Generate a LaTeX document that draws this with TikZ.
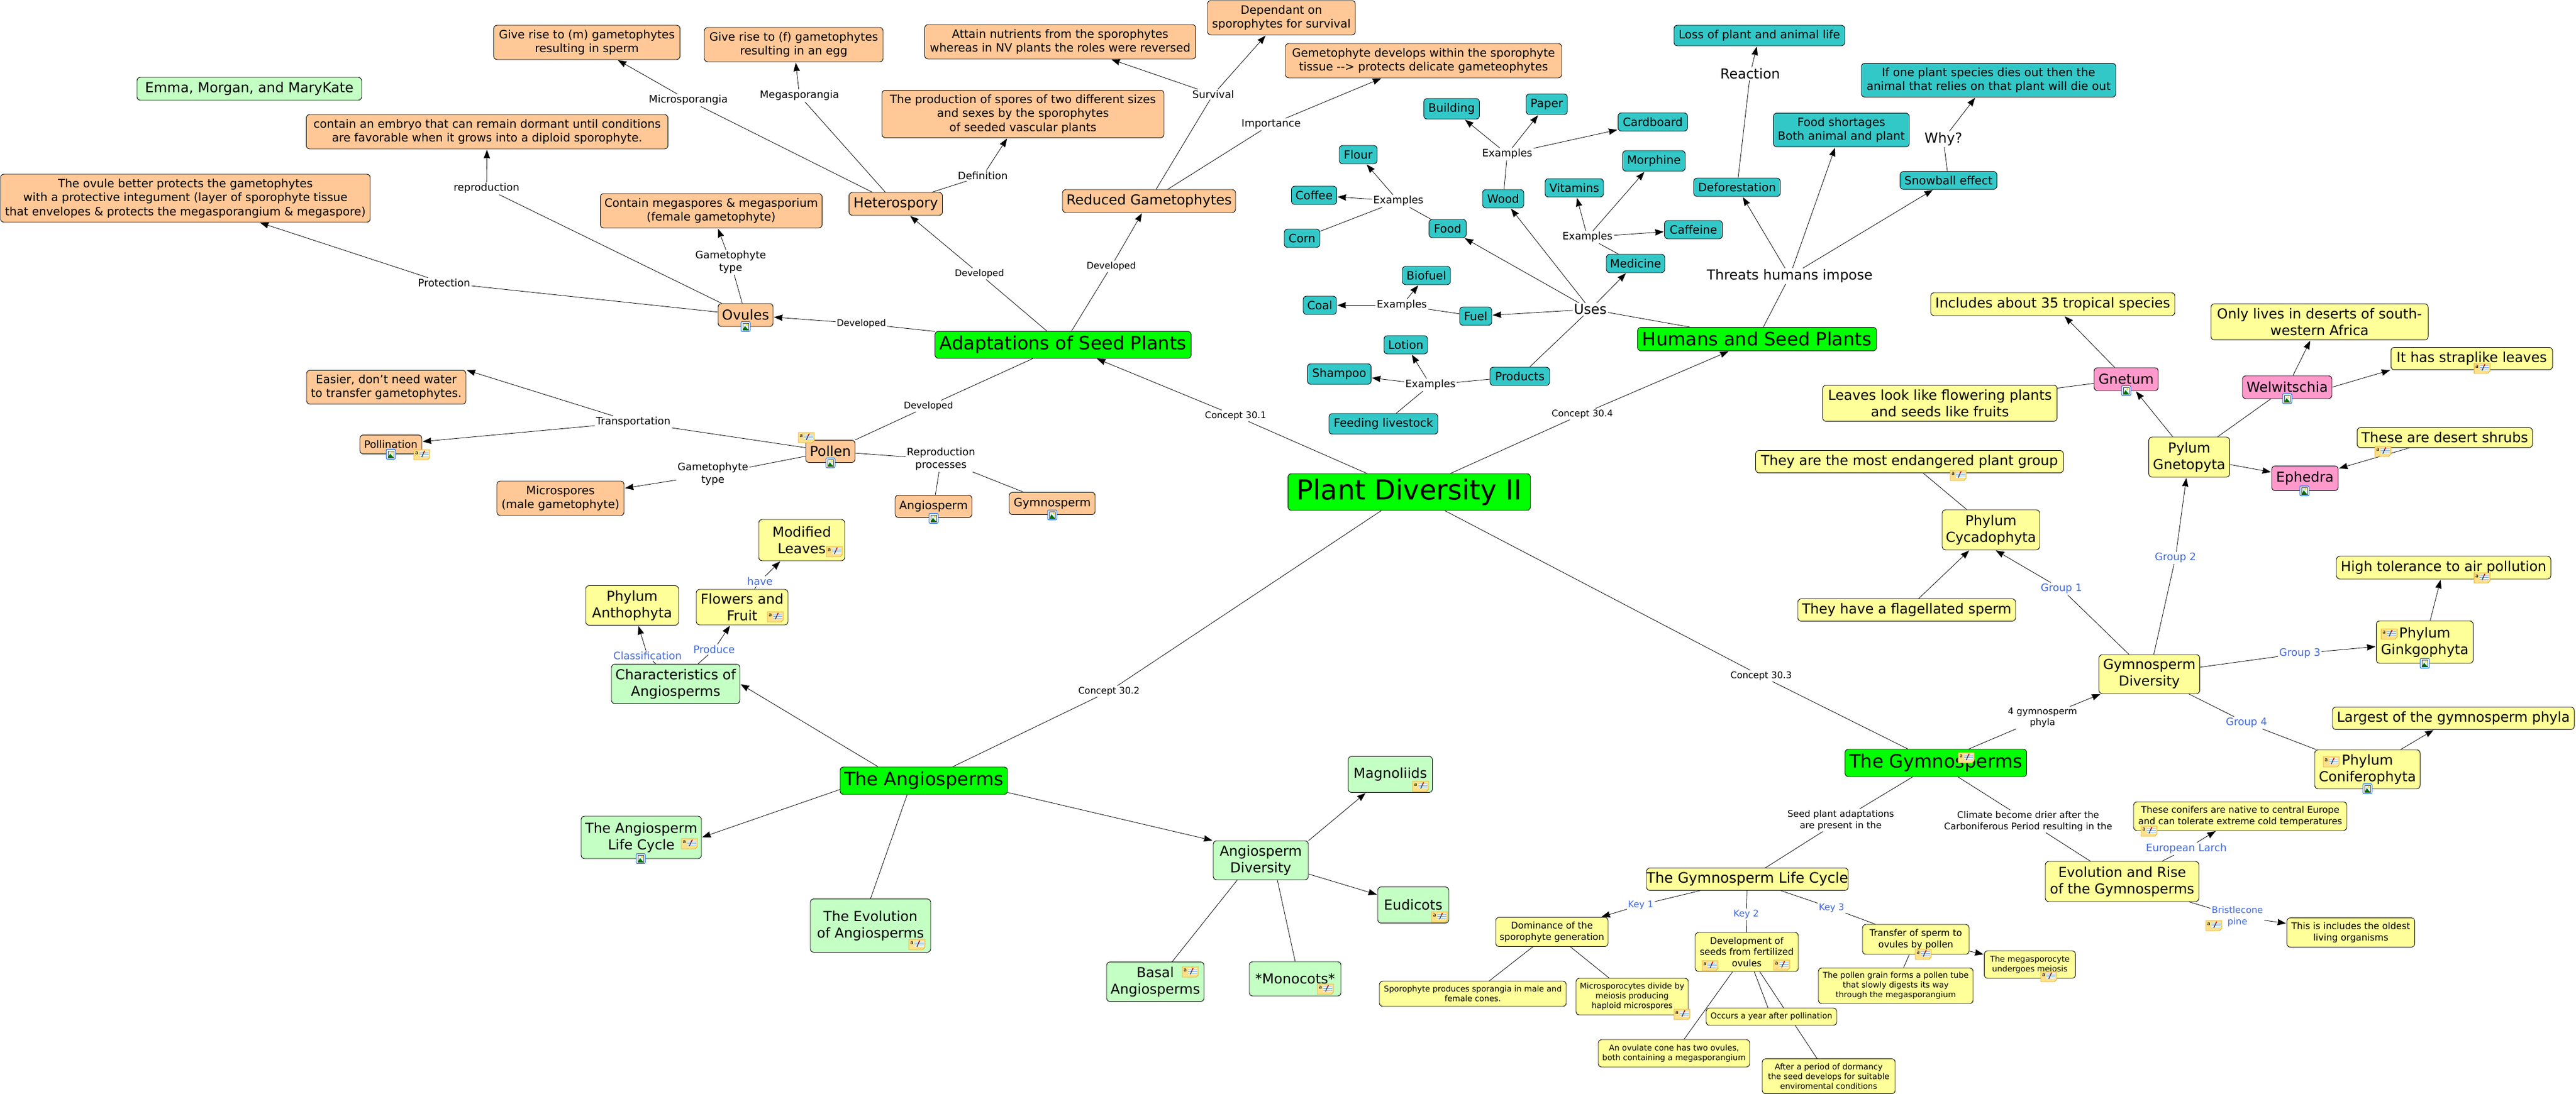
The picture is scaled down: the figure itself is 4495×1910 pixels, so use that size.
\documentclass[tikz,border=0pt]{standalone}
\usepackage{fontspec}
\setmainfont{DejaVu Sans}
\usetikzlibrary{arrows.meta}
\usetikzlibrary{backgrounds}
\definecolor{peach}{HTML}{FFC896}
\definecolor{tealbox}{HTML}{33C8C8}
\definecolor{lemon}{HTML}{FFFF99}
\definecolor{mint}{HTML}{C4FFC4}
\definecolor{hotgreen}{HTML}{00FF00}
\definecolor{rose}{HTML}{FF99CC}
\definecolor{linkblue}{HTML}{3F68DC}
\definecolor{notefill}{HTML}{FFE08A}
\definecolor{noteedge}{HTML}{E6AE20}
\definecolor{stripe}{HTML}{8FC0EC}
\tikzset{
  sz14/.style={font=\fontsize{14}{17}\selectfont},
  sz16/.style={font=\fontsize{16}{19.5}\selectfont},
  sz18/.style={font=\fontsize{18}{22}\selectfont},
  sz20/.style={font=\fontsize{20}{24.5}\selectfont},
  sz24/.style={font=\fontsize{24}{29}\selectfont},
  sz25/.style={font=\fontsize{25}{30}\selectfont},
  sz32/.style={font=\fontsize{32}{38}\selectfont},
  sz48/.style={font=\fontsize{48}{56}\selectfont},
  wh/.style 2 args={minimum width=#1pt,minimum height=#2pt},
  box/.style={draw=black,line width=0.9pt,rounded corners=6pt,align=center,inner sep=0pt},
  orangebox/.style={box,fill=peach,sz20},
  cyanbox/.style={box,fill=tealbox,sz20},
  yellowbox/.style={box,fill=lemon,sz24},
  palebox/.style={box,fill=mint,sz24},
  mainbox/.style={box,fill=hotgreen,sz32},
  pinkbox/.style={box,fill=rose,sz24},
  lbl/.style={align=center,inner sep=2pt,sz18},
  lblb/.style={lbl,text=linkblue},
  lnk/.style={line width=0.8pt},
  arw/.style={line width=0.8pt,-{Stealth[length=15pt,width=11pt,inset=1pt]},shorten >=1pt},
}
\newcommand{\noteicon}[2]{
  \begin{scope}[shift={(#2)}]
    \draw[fill=notefill,draw=noteedge,line width=0.9pt] (-14,-9) -- (14,-9) -- (14,5) -- (10,9) -- (-14,9) -- cycle;
    \fill[white] (-4,-6) rectangle (12,4);
    \draw[stripe,line width=1.2pt] (-4,-4.5) -- (12,-4.5) (-4,-1) -- (12,-1) (-4,2.5) -- (12,2.5);
    \draw[red!75!black,line width=1.6pt] (5,-7) -- (3,-3);
    \draw[black!80,line width=1.3pt] (3,-3) -- (0,4);
    \node[inner sep=0pt,font=\fontsize{9}{9}\selectfont] (note-#1) at (-9,-3) {a};
  \end{scope}}
\newcommand{\picicon}[2]{
  \begin{scope}[shift={(#2)}]
    \draw[fill=white,draw=blue!60!cyan,line width=1pt,rounded corners=2pt] (-8,-8.5) rectangle (8,8.5);
    \fill[cyan!12] (-5,-6) rectangle (5,6);
    \draw[black!70,line width=0.4pt] (-5,-6) rectangle (5,6);
    \fill[green!45!black] (-5,6) -- (-1,-1) -- (2,3) -- (5,6) -- cycle;
    \fill[yellow!80!orange] (2,-3) circle (1.8);
    \coordinate (pic-#1) at (0,0);
  \end{scope}}

\begin{document}
\begin{tikzpicture}[x=1pt,y=-1pt]
\useasboundingbox (0,0) rectangle (4495,1910);

% hubs
\node[mainbox,sz48,wh={423}{64}] (pd) at (2459,859) {Plant Diversity II};
\node[mainbox,wh={447}{47}] (adapt) at (1855,602) {Adaptations of Seed Plants};
\node[mainbox,wh={417}{41}] (humans) at (3066,592) {Humans and Seed Plants};
\node[mainbox,wh={292}{48}] (angio) at (1612,1363) {The Angiosperms};
\node[mainbox,wh={317}{48}] (gymno) at (3378,1332) {The Gymnosperms};
\node[palebox,wh={392}{40}] (authors) at (435,155) {Emma, Morgan, and MaryKate};

% adaptations
\node[orangebox,wh={325}{60}] (risem) at (1024,74) {Give rise to (m) gametophytes\\resulting in sperm};
\node[orangebox,wh={312}{60}] (risef) at (1385,78) {Give rise to (f) gametophytes\\resulting in an egg};
\node[orangebox,wh={631}{60}] (embryo) at (850,230) {contain an embryo that can remain dormant until conditions\\are favorable when it grows into a diploid sporophyte.};
\node[orangebox,wh={645}{84}] (protect) at (323.5,346) {The ovule better protects the gametophytes\\with a protective integument (layer of sporophyte tissue\\that envelopes \& protects the megasporangium \& megaspore)};
\node[orangebox,wh={387}{60}] (megasp) at (1241,368) {Contain megaspores \& megasporium\\(female gametophyte)};
\node[orangebox,sz24,wh={163}{40}] (hetero) at (1563,356) {Heterospory};
\node[orangebox,sz24,wh={96}{40}] (ovules) at (1301,550) {Ovules};
\node[orangebox,wh={473}{60}] (attain) at (1850,73) {Attain nutrients from the sporophytes\\whereas in NV plants the roles were reversed};
\node[orangebox,wh={258}{60}] (depend) at (2236,31) {Dependant on\\sporophytes for survival};
\node[orangebox,wh={482}{60}] (gemeto) at (2484,106) {Gemetophyte develops within the sporophyte\\tissue {-}{-}> protects delicate gameteophytes};
\node[orangebox,wh={492}{83}] (product) at (1785,199) {The production of spores of two different sizes\\and sexes by the sporophytes\\of seeded vascular plants};
\node[orangebox,sz24,wh={302}{40}] (reduced) at (2005,351) {Reduced Gametophytes};
\node[orangebox,wh={278}{59}] (easier) at (674,676) {Easier, don't need water\\to transfer gametophytes.};
\node[orangebox,sz18,wh={108}{33}] (pollin) at (682,776) {Pollination};
\node[orangebox,wh={222}{60}] (micro) at (978,870) {Microspores\\(male gametophyte)};
\node[orangebox,sz24,wh={86}{39}] (pollen) at (1449,788) {Pollen};
\node[orangebox,wh={134}{39}] (angbox) at (1629,884) {Angiosperm};
\node[orangebox,wh={150}{39}] (gymbox) at (1836,879) {Gymnosperm};

% humans
\node[cyanbox,wh={66}{32}] (flour) at (2370,270) {Flour};
\node[cyanbox,wh={79}{32}] (coffee) at (2293,341) {Coffee};
\node[cyanbox,wh={62}{32}] (corn) at (2272,416) {Corn};
\node[cyanbox,wh={65}{32}] (food) at (2526,399) {Food};
\node[cyanbox,wh={97}{36}] (build) at (2533,190) {Building};
\node[cyanbox,wh={72}{36}] (paper) at (2699,182) {Paper};
\node[cyanbox,wh={121}{32}] (card) at (2884,213) {Cardboard};
\node[cyanbox,wh={109}{36}] (morph) at (2886,281) {Morphine};
\node[cyanbox,wh={102}{32}] (vitam) at (2747,328) {Vitamins};
\node[cyanbox,wh={72}{32}] (wood) at (2623,347) {Wood};
\node[cyanbox,wh={101}{32}] (caff) at (2955,401) {Caffeine};
\node[cyanbox,wh={102}{32}] (medic) at (2854,460) {Medicine};
\node[cyanbox,wh={84}{32}] (biof) at (2489,481) {Biofuel};
\node[cyanbox,wh={58}{32}] (coal) at (2303,533) {Coal};
\node[cyanbox,wh={56}{32}] (fuel) at (2575,552) {Fuel};
\node[cyanbox,wh={76}{32}] (lotion) at (2453,602) {Lotion};
\node[cyanbox,wh={111}{36}] (shamp) at (2337,653) {Shampoo};
\node[cyanbox,wh={104}{32}] (prods) at (2652,657) {Products};
\node[cyanbox,wh={190}{36}] (feed) at (2414,740) {Feeding livestock};
\node[cyanbox,wh={298}{36}] (loss) at (3070,62) {Loss of plant and animal life};
\node[cyanbox,wh={151}{32}] (defor) at (3031,327) {Deforestation};
\node[cyanbox,wh={444}{59}] (ifone) at (3470,140) {If one plant species dies out then the\\animal that relies on that plant will die out};
\node[cyanbox,wh={237}{59}] (short) at (3213,227) {Food shortages\\Both animal and plant};
\node[cyanbox,wh={169}{31}] (snow) at (3400,315) {Snowball effect};

% angiosperms
\node[yellowbox,wh={150}{72}] (modif) at (1399,943) {Modified\\Leaves};
\node[yellowbox,wh={162}{69}] (antho) at (1103,1057) {Phylum\\Anthophyta};
\node[yellowbox,wh={160}{62}] (flowers) at (1295,1060) {Flowers and\\Fruit};
\node[palebox,wh={224}{69}] (charac) at (1179,1194) {Characteristics of\\Angiosperms};
\node[palebox,wh={210}{74}] (alife) at (1119,1462) {The Angiosperm\\Life Cycle};
\node[palebox,wh={210}{93}] (aevol) at (1519,1616) {The Evolution\\of Angiosperms};
\node[palebox,wh={166}{68}] (adiv) at (2200,1502) {Angiosperm\\Diversity};
\node[palebox,wh={170}{69}] (basal) at (2016,1714) {Basal\\Angiosperms};
\node[palebox,wh={160}{60}] (mono) at (2260,1709) {*Monocots*};
\node[palebox,wh={147}{63}] (magno) at (2426,1352) {Magnoliids};
\node[palebox,wh={124}{63}] (eudi) at (2466,1580) {Eudicots};

% gymnosperms
\node[yellowbox,wh={426}{40}] (includes) at (3582,531) {Includes about 35 tropical species};
\node[yellowbox,wh={379}{63}] (desert) at (4047.5,562) {Only lives in deserts of south-\\western Africa};
\node[yellowbox,wh={282}{39}] (strap) at (4313,626) {It has straplike leaves};
\node[pinkbox,wh={112}{40}] (gnetum) at (3710,662) {Gnetum};
\node[pinkbox,wh={156}{40}] (welw) at (3991,676) {Welwitschia};
\node[yellowbox,wh={409}{63}] (leaves) at (3385,704) {Leaves look like flowering plants\\and seeds like fruits};
\node[yellowbox,wh={141}{70}] (gneto) at (3820,798) {Pylum\\Gnetopyta};
\node[yellowbox,wh={306}{35}] (shrubs) at (4266,764) {These are desert shrubs};
\node[pinkbox,wh={116}{43}] (ephed) at (4022,835) {Ephedra};
\node[yellowbox,wh={537}{39}] (endang) at (3332,806) {They are the most endangered plant group};
\node[yellowbox,wh={170}{70}] (cycad) at (3474,925) {Phylum\\Cycadophyta};
\node[yellowbox,wh={380}{39}] (flagel) at (3327,1065) {They have a flagellated sperm};
\node[yellowbox,wh={374}{40}] (toler) at (4264,991) {High tolerance to air pollution};
\node[yellowbox,wh={169}{74}] (ginkgo) at (4231,1121) {Phylum\\Ginkgophyta};
\node[yellowbox,wh={176}{68}] (gdiv) at (3750.5,1177) {Gymnosperm\\Diversity};
\node[yellowbox,wh={422}{39}] (largest) at (4281,1254) {Largest of the gymnosperm phyla};
\node[yellowbox,wh={184}{68}] (conif) at (4131,1343) {Phylum\\Coniferophyta};
\node[yellowbox,sz25,wh={352}{39}] (glife) at (3049,1535) {The Gymnosperm Life Cycle};
\node[yellowbox,wh={268}{70}] (gevol) at (3703,1539) {Evolution and Rise\\of the Gymnosperms};
\node[yellowbox,sz16,wh={372}{50}] (larch) at (3909,1425) {These conifers are native to central Europe\\and can tolerate extreme cold temperatures};
\node[yellowbox,sz16,wh={223}{51}] (oldest) at (4102,1628) {This is includes the oldest\\living organisms};
\node[yellowbox,sz16,wh={196}{51}] (domin) at (2708,1627) {Dominance of the\\sporophyte generation};
\node[yellowbox,sz16,wh={180}{68}] (devel) at (3048,1662) {Development of\\seeds from fertilized\\ovules};
\node[yellowbox,sz16,wh={186}{52}] (transf) at (3343,1640) {Transfer of sperm to\\ovules by pollen};
\node[yellowbox,sz14,wh={159}{48}] (megacyte) at (3542,1684) {The megasporocyte\\undergoes meiosis};
\node[yellowbox,sz14,wh={326}{44}] (sporo) at (2570,1735) {Sporophyte produces sporangia in male and\\female cones.};
\node[yellowbox,sz14,wh={196}{64}] (microcyte) at (2848,1740) {Microsporocytes divide by\\meiosis producing\\haploid microspores};
\node[yellowbox,sz14,wh={270}{62}] (tube) at (3308,1721) {The pollen grain forms a pollen tube\\that slowly digests its way\\through the megasporangium};
\node[yellowbox,sz14,wh={228}{30}] (occurs) at (3091,1775) {Occurs a year after pollination};
\node[yellowbox,sz14,wh={264}{48}] (ovulate) at (2921,1839) {An ovulate cone has two ovules,\\both containing a megasporangium};
\node[yellowbox,sz14,wh={232}{61}] (after) at (3191,1879) {After a period of dormancy\\the seed develops for suitable\\enviromental conditions};

% link labels
\node[lbl,sz16] (c301) at (2156,726) {Concept 30.1};
\node[lbl,sz16] (c302) at (1935,1207) {Concept 30.2};
\node[lbl,sz16] (c303) at (3073,1180) {Concept 30.3};
\node[lbl,sz16] (c304) at (2761,723) {Concept 30.4};
\node[lbl,sz16] (devovu) at (1503,565) {Developed};
\node[lbl,sz16] (devhet) at (1709,478) {Developed};
\node[lbl,sz16] (devred) at (1939,465) {Developed};
\node[lbl,sz16] (devpol) at (1620,709) {Developed};
\node[lbl] (lmicro) at (1201,175) {Microsporangia};
\node[lbl] (lmega) at (1395,167) {Megasporangia};
\node[lbl] (lrepro) at (849,329) {reproduction};
\node[lbl] (lgamo) at (1275,458) {Gametophyte\\type};
\node[lbl] (lprot) at (775,494) {Protection};
\node[lbl] (lsurv) at (2117,165) {Survival};
\node[lbl] (limpo) at (2218,217) {Importance};
\node[lbl] (ldefi) at (1715,307) {Definition};
\node[lbl] (ltrans) at (1105,737) {Transportation};
\node[lbl] (lgamp) at (1244,828) {Gametophyte\\type};
\node[lbl] (lproc) at (1642,802) {Reproduction\\processes};
\node[lbl] (exwood) at (2630,269) {Examples};
\node[lbl] (exfood) at (2440,351) {Examples};
\node[lbl] (exmed) at (2770,414) {Examples};
\node[lbl] (exfuel) at (2446,533) {Examples};
\node[lbl] (exprod) at (2496,672) {Examples};
\node[lbl,sz24] (luses) at (2775,540) {Uses};
\node[lbl,sz24] (lthreat) at (3123,482) {Threats humans impose};
\node[lbl,sz24] (lreact) at (3054,129) {Reaction};
\node[lbl,sz24] (lwhy) at (3391,243) {Why?};
\node[lbl,sz16] (lphyla) at (3564,1253) {4 gymnosperm\\phyla};
\node[lbl,sz16] (lseed) at (3212,1432) {Seed plant adaptations\\are present in the};
\node[lbl,sz16] (lclim) at (3539,1434) {Climate become drier after the\\Carboniferous Period resulting in the};
\node[lblb] (lhave) at (1326,1015) {have};
\node[lblb] (lprodu) at (1246,1134) {Produce};
\node[lblb] (lclass) at (1130,1145) {Classification};
\node[lblb] (grp1) at (3597,1028) {Group 1};
\node[lblb] (grp2) at (3796,974) {Group 2};
\node[lblb] (grp3) at (4013,1141) {Group 3};
\node[lblb] (grp4) at (3920,1262) {Group 4};
\node[lblb,sz16] (key1) at (2863,1580) {Key 1};
\node[lblb,sz16] (key2) at (3047,1596) {Key 2};
\node[lblb,sz16] (key3) at (3196,1585) {Key 3};
\node[lblb] (llarch) at (3815,1482) {European Larch};
\node[lblb,sz16] (lbris) at (3904,1600) {Bristlecone\\pine};

% icons
\noteicon{pollen}{1407,764}
\noteicon{pollin}{736,794}
\noteicon{modif}{1456,963}
\noteicon{flowers}{1353,1077}
\noteicon{alife}{1203,1473}
\noteicon{aevol}{1600,1649}
\noteicon{basal}{2077,1697}
\noteicon{mono}{2313,1727}
\noteicon{magno}{2479,1373}
\noteicon{eudi}{2512,1601}
\noteicon{gymno}{3431,1323}
\noteicon{larch}{3750,1451}
\noteicon{bris}{3863,1616}
\noteicon{devela}{2984,1686}
\noteicon{develb}{3109,1685}
\noteicon{transf}{3356,1666}
\noteicon{microcyte}{2935,1771}
\noteicon{megacyte}{3575,1705}
\noteicon{strap}{4331,643}
\noteicon{toler}{4331,1009}
\noteicon{endang}{3417,830}
\noteicon{shrubs}{4158,788}
\noteicon{ginkgo}{4169,1107}
\noteicon{conif}{4068,1330}
\picicon{ovules}{1301,570}
\picicon{pollin}{682,793}
\picicon{pollen}{1449,808}
\picicon{angbox}{1629,905}
\picicon{gymbox}{1836,899}
\picicon{alife}{1118,1499}
\picicon{gnetum}{3710,682}
\picicon{welw}{3991,696}
\picicon{ephed}{4021,857}
\picicon{ginkgo}{4231,1158}
\picicon{conif}{4131,1377}

% connectors sit behind the boxes
\begin{scope}[on background layer]
  \path[lnk] (pd) edge (c301) (pd) edge (c304) (pd) edge (c302) (pd) edge (c303)
    (adapt) edge (devovu) (adapt) edge (devhet) (adapt) edge (devred) (adapt) edge (devpol)
    (devpol) edge (pollen)
    (ovules) edge (lprot) (ovules) edge (lrepro) (ovules) edge (lgamo)
    (hetero) edge (lmicro) (hetero) edge (lmega) (hetero) edge (ldefi)
    (reduced) edge (lsurv) (reduced) edge (limpo)
    (pollen) edge (ltrans) (pollen) edge (lgamp) (pollen) edge (lproc)
    (lproc) edge (angbox) (lproc) edge (gymbox)
    (humans) edge (luses) (humans) edge (lthreat)
    (luses) edge (prods)
    (wood) edge (exwood) (food) edge (exfood) (medic) edge (exmed) (fuel) edge (exfuel) (prods) edge (exprod)
    (exfood) edge (corn) (exprod) edge (feed)
    (defor) edge (lreact) (snow) edge (lwhy)
    (charac) edge (lclass) (charac) edge (lprodu) (flowers) edge (lhave)
    (angio.220) edge (aevol.north)
    (adiv.220) edge (basal.50) (adiv.310) edge (mono.north)
    (c302) edge (angio) (c303) edge (gymno)
    (gymno) edge (lphyla) (gymno) edge (lseed) (gymno) edge (lclim)
    (lseed) edge (glife) (lclim) edge (gevol)
    (glife) edge (key1) (glife) edge (key2) (glife) edge (key3)
    (key2) edge (devel) (key3) edge (transf)
    (domin) edge (sporo) (domin) edge (microcyte)
    (devel) edge (ovulate) (devel) edge (occurs) (devel) edge (after)
    (transf) edge (tube)
    (gdiv) edge (grp1) (gdiv) edge (grp2) (gdiv) edge (grp3) (gdiv) edge (grp4)
    (grp4) edge (conif)
    (cycad) edge (endang) (gneto) edge (welw) (gnetum) edge (leaves)
    (gevol) edge (llarch) (gevol) edge (lbris);
  \path[arw] (c301) edge (adapt) (c304) edge (humans)
    (devovu) edge (ovules) (devhet) edge (hetero) (devred) edge (reduced)
    (lprot) edge (protect) (lrepro) edge (embryo) (lgamo) edge (megasp)
    (lmicro) edge (risem) (lmega) edge (risef) (ldefi) edge (product)
    (lsurv) edge (attain) (lsurv) edge (depend) (limpo) edge (gemeto)
    (ltrans) edge (easier.north east) (ltrans) edge (pollin) (lgamp) edge (micro)
    (luses) edge (wood) (luses) edge (food) (luses) edge (fuel) (luses) edge (medic)
    (exwood) edge (build) (exwood) edge (paper) (exwood) edge (card)
    (exfood) edge (flour) (exfood) edge (coffee)
    (exmed) edge (vitam) (exmed) edge (morph) (exmed) edge (caff)
    (exfuel) edge (coal) (exfuel) edge (biof)
    (exprod) edge (shamp) (exprod) edge (lotion)
    (lthreat) edge (defor) (lthreat) edge (short) (lthreat) edge (snow)
    (lreact) edge (loss) (lwhy) edge (ifone)
    (angio.163) edge (charac.east) (angio.186) edge (alife.east) (angio.352) edge (adiv.north west)
    (adiv.north east) edge (magno.217) (adiv.344) edge (eudi.164)
    (lclass) edge (antho) (lprodu) edge (flowers) (lhave) edge (modif)
    (lphyla) edge (gdiv) (key1) edge (domin) (transf) edge (megacyte)
    (grp1) edge (cycad.282) (grp2) edge (gneto) (grp3) edge (ginkgo)
    (flagel) edge (cycad) (gneto) edge (gnetum) (gneto) edge (ephed)
    (gnetum) edge (includes) (welw) edge (desert) (welw.east) edge (strap.south west)
    (shrubs) edge (ephed) (ginkgo) edge (toler) (conif) edge (largest)
    (llarch) edge (larch) (lbris) edge (oldest);
\end{scope}
\end{tikzpicture}
\end{document}
